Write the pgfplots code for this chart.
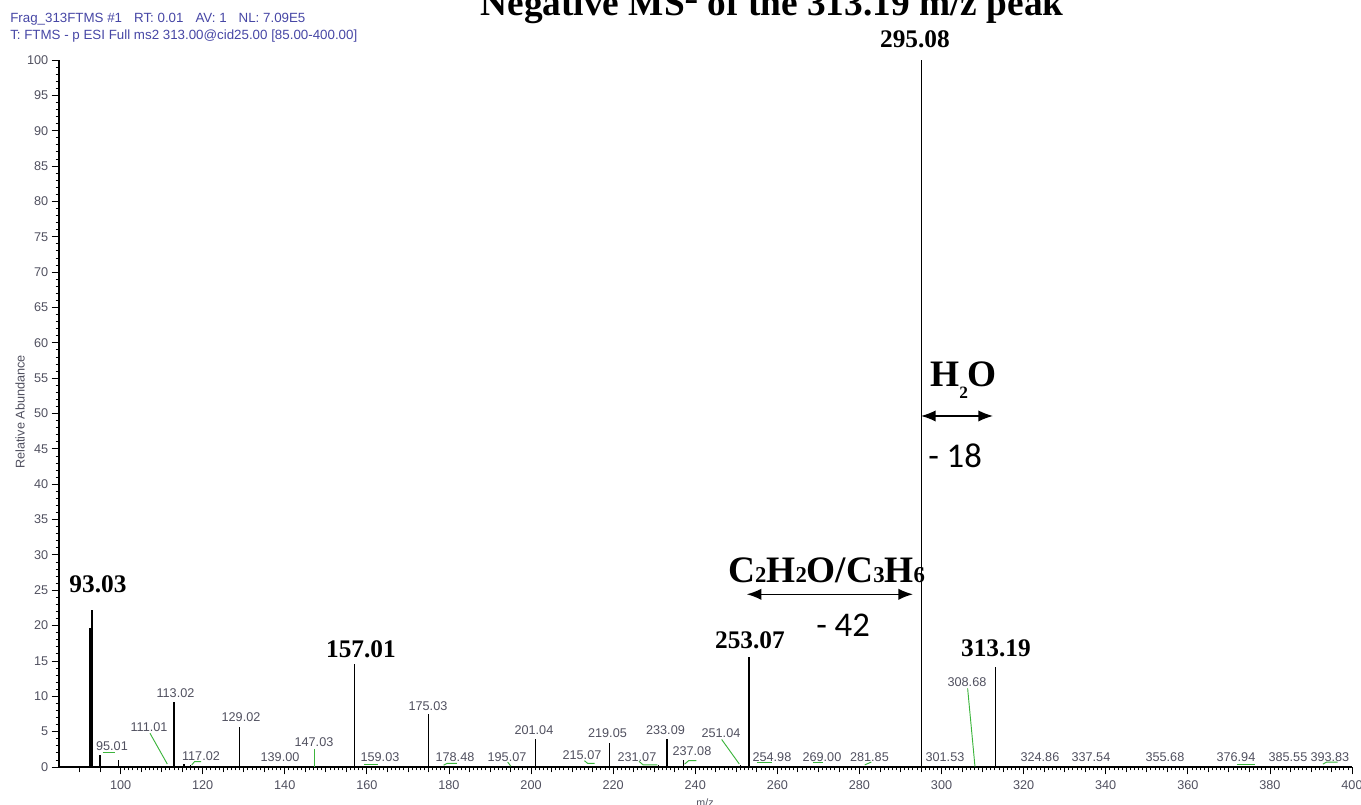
\documentclass[border=0pt]{standalone}
\usepackage{pgfplots}
\pgfplotsset{compat=1.18}
\usepackage{fontspec}
\setmainfont{Liberation Serif}
\newfontfamily\arial{Liberation Sans}
\newfontfamily\calibri{Carlito}
\usetikzlibrary{arrows.meta}

\definecolor{hdrblue}{RGB}{70,70,165}
\definecolor{lblgray}{RGB}{80,80,95}
\definecolor{leader}{RGB}{60,180,60}

\newcommand{\pk}[1]{{\arial\fontsize{9.5}{10}\selectfont #1}}
\newcommand{\bpk}[1]{{\bfseries\fontsize{19}{20}\selectfont #1}}

\begin{document}
\begin{tikzpicture}
\begin{axis}[
  at={(44.25pt,28.5pt)}, anchor=south west,
  scale only axis, width=969.75pt, height=530.25pt,
  xmin=85, xmax=400, ymin=0, ymax=100,
  axis x line=bottom, axis y line=left,
  axis line style={-, line width=0.8pt},
  xtick={100,120,...,400}, minor x tick num=19,
  extra x ticks={90,95,...,400}, extra x tick labels={},
  extra x tick style={major tick length=4pt},
  ytick={0,5,...,100}, minor y tick num=4,
  tick align=outside,
  major tick length=5.5pt, minor tick length=2.6pt,
  every tick/.style={black, line width=0.6pt},
  tick label style={font=\arial\fontsize{9.5}{10}\selectfont, text=lblgray},
  /pgf/number format/assume math mode=true,
  xticklabel style={yshift=-1pt},
  yticklabel style={xshift=1pt},
  clip=false,
]
% main fragment sticks
\addplot[ycomb, black, line width=2.2pt, no marks] coordinates {(92.65,19.7)};
\addplot[ycomb, black, line width=1.1pt, no marks] coordinates {
  (93.03,22.2) (95.01,1.7) (99.5,1.0) (113.02,9.2) (115.5,0.4)
  (117.02,0.3) (129.02,5.7) (139.00,0.2) (157.01,14.5) (159.03,0.2)
  (175.03,7.5) (201.04,3.9) (215.07,0.2) (219.05,3.4) (231.07,0.3)
  (233.09,3.9) (237.08,1.0) (251.04,0.3) (253.07,15.5) (295.08,100)
  (313.19,14.1)
};

% label leaders
\begin{scope}[leader, line width=0.7pt]
  \draw (axis cs:95.6,2.0) -- (axis cs:98.6,2.0);
  \draw (axis cs:107.17,4.77) -- (axis cs:111.38,0.42);
  \draw (axis cs:117.33,0.28) -- (axis cs:118.0,0.75) -- (axis cs:119.6,0.75);
  \draw (axis cs:147.2,0) -- (axis cs:147.2,2.6);
  \draw (axis cs:159.3,0.4) -- (axis cs:162.7,0.4);
  \draw (axis cs:178.7,0.25) -- (axis cs:179.5,0.5) -- (axis cs:181.9,0.5);
  \draw (axis cs:194.3,0.7) -- (axis cs:195.1,0.1);
  \draw (axis cs:213.0,0.9) -- (axis cs:213.8,0.5) -- (axis cs:215.5,0.5);
  \draw (axis cs:226.3,0.8) -- (axis cs:227.3,0.3) -- (axis cs:230.8,0.3);
  \draw (axis cs:237.4,0.4) -- (axis cs:238.4,0.9) -- (axis cs:240.3,0.9);
  \draw (axis cs:246.43,3.9) -- (axis cs:250.73,0.42);
  \draw (axis cs:254.96,0.6) -- (axis cs:258.6,0.6);
  \draw (axis cs:268.7,0.6) -- (axis cs:271.1,0.6);
  \draw (axis cs:281.3,0.3) -- (axis cs:282.9,0.7);
  \draw (axis cs:306.36,11.13) -- (axis cs:308.15,0.05);
  \draw (axis cs:371.97,0.42) -- (axis cs:376.36,0.42);
  \draw (axis cs:392.9,0.4) -- (axis cs:393.8,0.7) -- (axis cs:396.5,0.7);
\end{scope}

% small peak labels
\begin{scope}[every node/.style={text=lblgray, inner sep=0pt}]
  \node at (axis cs:97.91,2.97)  {\pk{95.01}};
  \node at (axis cs:106.92,5.66) {\pk{111.01}};
  \node at (axis cs:113.38,10.47){\pk{113.02}};
  \node at (axis cs:119.59,1.56) {\pk{117.02}};
  \node at (axis cs:129.34,7.07) {\pk{129.02}};
  \node at (axis cs:138.84,1.41) {\pk{139.00}};
  \node at (axis cs:147.12,3.54) {\pk{147.03}};
  \node at (axis cs:163.20,1.41) {\pk{159.03}};
  \node at (axis cs:174.89,8.63) {\pk{175.03}};
  \node at (axis cs:181.47,1.41) {\pk{178.48}};
  \node at (axis cs:194.14,1.41) {\pk{195.07}};
  \node at (axis cs:200.71,5.23) {\pk{201.04}};
  \node at (axis cs:212.41,1.70) {\pk{215.07}};
  \node at (axis cs:218.62,4.81) {\pk{219.05}};
  \node at (axis cs:225.80,1.41) {\pk{231.07}};
  \node at (axis cs:232.75,5.23) {\pk{233.09}};
  \node at (axis cs:239.20,2.26) {\pk{237.08}};
  \node at (axis cs:246.27,4.81) {\pk{251.04}};
  \node at (axis cs:258.69,1.41) {\pk{254.98}};
  \node at (axis cs:270.87,1.41) {\pk{269.00}};
  \node at (axis cs:282.44,1.41) {\pk{281.85}};
  \node at (axis cs:300.84,1.41) {\pk{301.53}};
  \node at (axis cs:306.20,12.02){\pk{308.68}};
  \node at (axis cs:323.98,1.41) {\pk{324.86}};
  \node at (axis cs:336.40,1.41) {\pk{337.54}};
  \node at (axis cs:354.43,1.41) {\pk{355.68}};
  \node at (axis cs:371.73,1.41) {\pk{376.94}};
  \node at (axis cs:384.39,1.41) {\pk{385.55}};
  \node at (axis cs:394.62,1.41) {\pk{393.83}};
\end{scope}

% main fragment labels
\begin{scope}[every node/.style={anchor=base, inner sep=0pt}]
  \node at (axis cs:94.5,24.61)   {\bpk{93.03}};
  \node at (axis cs:158.57,15.42) {\bpk{157.01}};
  \node at (axis cs:253.33,16.83) {\bpk{253.07}};
  \node at (axis cs:293.53,101.7) {\bpk{295.08}};
  \node at (axis cs:313.26,15.56) {\bpk{313.19}};
\end{scope}
\end{axis}

% header, title and neutral-loss annotations (1 unit = 1 px)
\begin{scope}[shift={(0pt,603.75pt)}, x=0.75pt, y=-0.75pt]
  \node[anchor=base west, inner sep=0pt, text=hdrblue] at (10,22.7)
    {\arial\fontsize{10}{11}\selectfont Frag\_313FTMS \#1\hspace{0.9em}RT: 0.01\hspace{0.9em}AV: 1\hspace{0.9em}NL: 7.09E5};
  \node[anchor=base west, inner sep=0pt, text=hdrblue] at (10,39.3)
    {\arial\fontsize{10}{11}\selectfont T: FTMS - p ESI Full ms2 313.00@cid25.00 [85.00-400.00]};
  \node[anchor=base, inner sep=0pt] at (772,16)
    {\bfseries\fontsize{28}{30}\selectfont Negative MS\textsuperscript{2} of the 313.19 m/z peak};

  \node[rotate=90, inner sep=0pt, text=lblgray] at (20,412)
    {\arial\fontsize{9.5}{10}\selectfont Relative Abundance};
  \node[inner sep=0pt, text=lblgray] at (705,803)
    {\arial\fontsize{8}{9}\selectfont m/z};

  % water loss
  \node[anchor=base west, inner sep=0pt] at (930,386.7)
    {\bfseries\fontsize{28}{30}\selectfont H\raisebox{-0.32em}{\fontsize{13}{14}\selectfont 2}O};
  \draw[line width=1.1pt, {Latex[length=11pt,width=8.5pt]}-{Latex[length=11pt,width=8.5pt]}] (921,416) -- (993,416);
  \node[anchor=base west, inner sep=0pt] at (928,468)
    {\calibri\fontsize{26}{28}\selectfont - 18};

  % ketene / propene loss
  \node[anchor=base west, inner sep=0pt] at (728,582.7)
    {\bfseries\fontsize{28}{30}\selectfont C{\fontsize{17}{18}\selectfont 2}H{\fontsize{17}{18}\selectfont 2}O/C{\fontsize{17}{18}\selectfont 3}H{\fontsize{17}{18}\selectfont 6}};
  \draw[line width=1.1pt, {Latex[length=11pt,width=8.5pt]}-{Latex[length=11pt,width=8.5pt]}] (746.7,594.3) -- (913,594.3);
  \node[anchor=base west, inner sep=0pt] at (816,636.7)
    {\calibri\fontsize{26}{28}\selectfont - 42};
\end{scope}

\pgfresetboundingbox
\path[use as bounding box] (0,0) rectangle (1020.75pt,603.75pt);
\end{tikzpicture}
\end{document}
